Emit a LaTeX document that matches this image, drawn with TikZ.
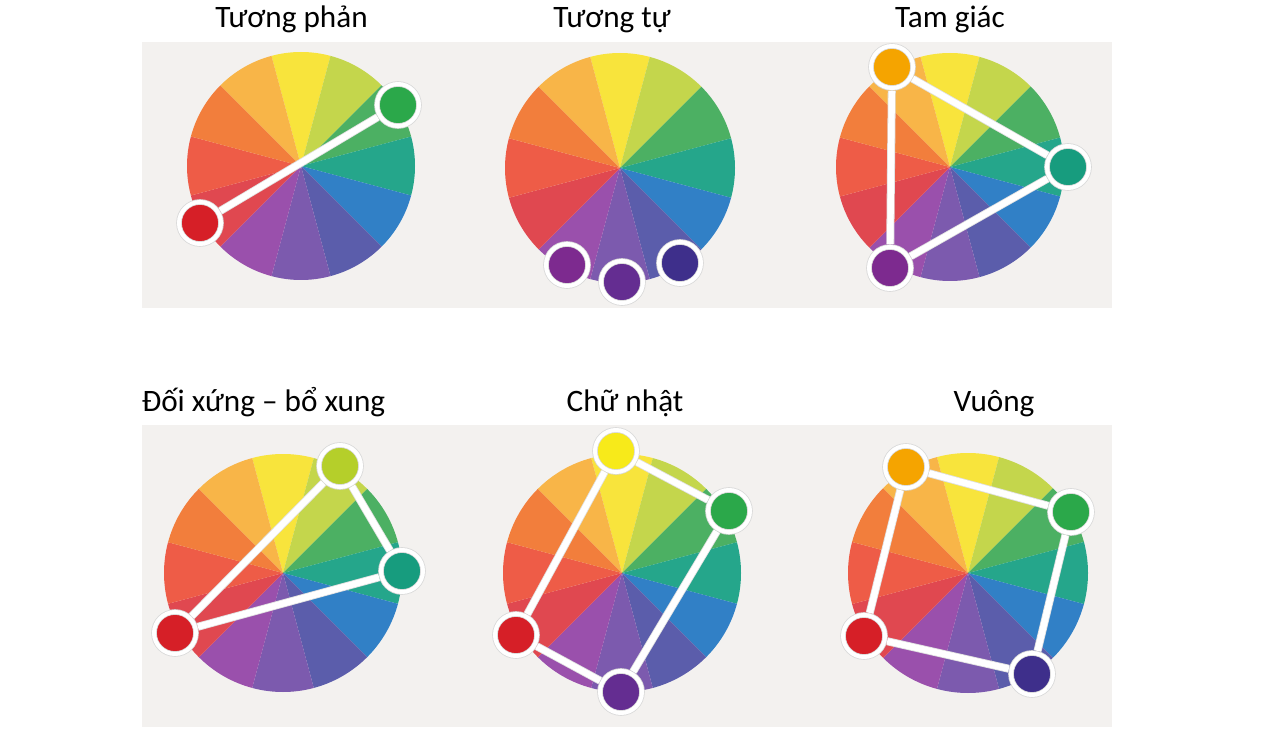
\documentclass[tikz,border=0pt]{standalone}
\usepackage{fontspec}
\setmainfont{Carlito}
% mau cac o tren vong mau
\definecolor{cyel}{HTML}{F8E43C}
\definecolor{clim}{HTML}{C4D64C}
\definecolor{cgre}{HTML}{4CB063}
\definecolor{ctea}{HTML}{25A68B}
\definecolor{cblu}{HTML}{3180C6}
\definecolor{cind}{HTML}{5B5DAB}
\definecolor{cvio}{HTML}{7C5AAE}
\definecolor{cpur}{HTML}{9A50AC}
\definecolor{cred}{HTML}{E04850}
\definecolor{cror}{HTML}{EE5C47}
\definecolor{cora}{HTML}{F27E3C}
\definecolor{cyor}{HTML}{F8B548}
% mau cac cham
\definecolor{dred}{HTML}{D61F27}
\definecolor{dgre}{HTML}{2BA84A}
\definecolor{dtea}{HTML}{179C7E}
\definecolor{dlim}{HTML}{B5CF2A}
\definecolor{dyel}{HTML}{F7EA1A}
\definecolor{dora}{HTML}{F5A400}
\definecolor{dpur}{HTML}{7D2A8F}
\definecolor{dvio}{HTML}{642D91}
\definecolor{dind}{HTML}{3E2F8B}
\definecolor{stripgray}{HTML}{F3F1EF}
\begin{document}
\begin{tikzpicture}[x=.5pt,y=.5pt,
	dot/.style={circle,fill=#1,draw=black!15,double=white,double distance=2pt,
		line width=.4pt,minimum size=21pt,inner sep=0pt},
	link/.style={draw=black!12,double=white,double distance=3.2pt,line width=.4pt,
		shorten >=1.2pt,shorten <=1.2pt},
	title/.style={anchor=base,font=\fontsize{15.6}{18}\selectfont}]
	\useasboundingbox (0,0) rectangle (1269,729);
	
	% hai dai nen xam
	\fill[stripgray] (142,421) rectangle (1112,687);
	\fill[stripgray] (142,2) rectangle (1112,304);
	
	\coordinate (ceni) at (301,563);
	\coordinate (cenii) at (620,561);
	\coordinate (ceniii) at (950,562);
	\coordinate (ceniv) at (283,156);
	\coordinate (cenv) at (622,156);
	\coordinate (cenvi) at (968,156);
	
	% 12 o mau, vang o tren cung
	\foreach \w/\r in {i/114,ii/115,iii/114,iv/119,v/119,vi/120}
	\foreach \col [count=\k from 0] in {cyel,clim,cgre,ctea,cblu,cind,cvio,cpur,cred,cror,cora,cyor}
	\fill[\col] (cen\w) -- ++({75-30*\k}:\r)
	arc[start angle={75-30*\k},end angle={105-30*\k},radius=\r] -- cycle;
	
	\node[title] (ti) at (291.5,701) {Tương phản};
	\node[title] (tii) at (612,701) {Tương tự};
	\node[title] (tiii) at (950,701) {Tam giác};
	\node[title] (tiv) at (263.5,317) {Đối xứng – bổ xung};
	\node[title] (tv) at (625,317) {Chữ nhật};
	\node[title] (tvi) at (994,317) {Vuông};
	
	% Tuong phan
	\node[dot=dgre] (greeni) at (398,624) {};
	\node[dot=dred] (redi) at (200,506) {};
	\draw[link] (redi) -- (greeni);
	
	% Tuong tu
	\node[dot=dpur] (purii) at (567,464) {};
	\node[dot=dvio] (violii) at (622,447) {};
	\node[dot=dind] (indii) at (680,466) {};
	
	% Tam giac
	\node[dot=dora] (oraiii) at (892,662) {};
	\node[dot=dtea] (teaiii) at (1068,562) {};
	\node[dot=dpur] (puriii) at (890,461) {};
	\draw[link] (oraiii) -- (teaiii);
	\draw[link] (teaiii) -- (puriii);
	\draw[link] (puriii) -- (oraiii);
	
	% Doi xung - bo xung
	\node[dot=dlim] (limiv) at (340,263) {};
	\node[dot=dtea] (teaiv) at (402,158) {};
	\node[dot=dred] (rediv) at (175,96) {};
	\draw[link] (rediv) -- (limiv);
	\draw[link] (limiv) -- (teaiv);
	\draw[link] (teaiv) -- (rediv);
	
	% Chu nhat
	\node[dot=dyel] (yelv) at (616,278) {};
	\node[dot=dgre] (grev) at (729,218) {};
	\node[dot=dvio] (violv) at (621,37) {};
	\node[dot=dred] (redv) at (516,94) {};
	\draw[link] (yelv) -- (grev);
	\draw[link] (grev) -- (violv);
	\draw[link] (violv) -- (redv);
	\draw[link] (redv) -- (yelv);
	
	% Vuong
	\node[dot=dora] (oravi) at (906,262) {};
	\node[dot=dgre] (grevi) at (1071,217) {};
	\node[dot=dind] (indvi) at (1032,55) {};
	\node[dot=dred] (redvi) at (864,93) {};
	\draw[link] (oravi) -- (grevi);
	\draw[link] (grevi) -- (indvi);
	\draw[link] (indvi) -- (redvi);
	\draw[link] (redvi) -- (oravi);
\end{tikzpicture}
\end{document}
